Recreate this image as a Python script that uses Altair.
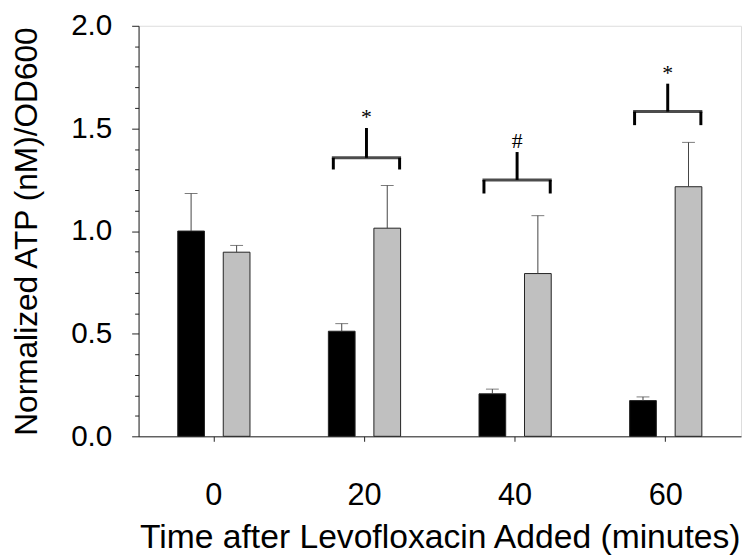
import altair as alt
import pandas as pd

# ---- data ----
times = ["0", "20", "40", "60"]
groups = ["Untreated", "Levofloxacin"]
black_mean = [1.00, 0.512, 0.207, 0.174]
black_sem = [0.183, 0.037, 0.023, 0.018]
gray_mean = [0.897, 1.014, 0.793, 1.216]
gray_sem = [0.033, 0.208, 0.282, 0.216]

bracket_times = ["20", "40", "60"]
bracket_symbols = ["*", "#", "*"]
bracket_level = [1.357, 1.249, 1.582]
bracket_end = [1.300, 1.183, 1.516]
bracket_top = [1.502, 1.385, 1.718]

y_ticks = [0.0, 0.1, 0.2, 0.3, 0.4, 0.5, 0.6, 0.7, 0.8, 0.9, 1.0,
           1.1, 1.2, 1.3, 1.4, 1.5, 1.6, 1.7, 1.8, 1.9, 2.0]

rows = []
for t, m, s in zip(times, black_mean, black_sem):
    rows.append({"time": t, "group": groups[0], "mean": m, "upper": m + s})
for t, m, s in zip(times, gray_mean, gray_sem):
    rows.append({"time": t, "group": groups[1], "mean": m, "upper": m + s})
df = pd.DataFrame(rows)

br = pd.DataFrame({"time": bracket_times, "sym": bracket_symbols,
                   "level": bracket_level, "end": bracket_end, "top": bracket_top})

W, H = 609, 415
FONT = "Liberation Sans"
AX = "#222222"

major = "abs(datum.value*2 - round(datum.value*2)) < 1e-6"

x_axis = alt.Axis(title="Time after Levofloxacin Added (minutes)", labelAngle=0,
                  tickSize=5, labelPadding=40, labelFontSize=31, titleFontSize=34,
                  titleY=112, titleBaseline="alphabetic", titleFontWeight="normal",
                  labelFont=FONT, titleFont=FONT, domainColor=AX, tickColor=AX,
                  labelColor="black", titleColor="black", grid=False)
x_scale = alt.Scale(domain=times, paddingInner=0.5205, paddingOuter=0.26)
X = alt.X("time:N", scale=x_scale, axis=x_axis)

y_axis = alt.Axis(title="Normalized ATP (nM)/OD600", values=y_ticks,
                  labelExpr=f"{major} ? format(datum.value, '.1f') : ''",
                  tickSize={"condition": {"test": major, "value": 7}, "value": 4},
                  labelPadding=20, labelFontSize=30, titleFontSize=32,
                  titleX=-103, titleY=H / 2, titleAngle=270, titleBaseline="alphabetic",
                  titleFontWeight="normal", labelFont=FONT, titleFont=FONT,
                  domainColor=AX, tickColor=AX, labelColor="black", titleColor="black",
                  grid=False)
y_scale = alt.Scale(domain=[0, 2], nice=False, zero=True)


def Y(field):
    return alt.Y(f"{field}:Q", scale=y_scale, axis=y_axis)


XO = alt.XOffset("group:N", sort=groups, scale=alt.Scale(domain=groups, paddingInner=0.413, paddingOuter=0))

base = alt.Chart(df)

bars = base.mark_bar(stroke="#222222", strokeWidth=1).encode(
    x=X, xOffset=XO, y=Y("mean"),
    color=alt.Color("group:N", scale=alt.Scale(domain=groups, range=["#000000", "#c0c0c0"]), legend=None),
)
err = base.mark_rule(color="#444444", strokeWidth=1).encode(
    x=X, xOffset=XO, y=Y("mean"), y2="upper:Q")
cap = base.mark_tick(color="#444444", size=13, thickness=1).encode(
    x=X, xOffset=XO, y=Y("upper"))

bb = alt.Chart(br)
br_h = bb.mark_tick(color="black", size=70, thickness=3, xOffset=2).encode(x=X, y=Y("level"))
br_l = bb.mark_rule(color="black", strokeWidth=3, xOffset=-31.5).encode(x=X, y=Y("level"), y2="end:Q")
br_r = bb.mark_rule(color="black", strokeWidth=3, xOffset=35.5).encode(x=X, y=Y("level"), y2="end:Q")
br_s = bb.mark_rule(color="black", strokeWidth=3, xOffset=2).encode(x=X, y=Y("level"), y2="top:Q")
br_t = bb.mark_text(font="Liberation Serif", fontSize=22, baseline="alphabetic", dy=-4,
                    xOffset=2, color="black").encode(x=X, y=Y("top"), text="sym:N")

chart = alt.layer(bars, err, cap, br_h, br_l, br_r, br_s, br_t).properties(
    width=W, height=H,
    autosize=alt.AutoSizeParams(type="none"),
    padding={"left": 132, "top": 15, "right": 2, "bottom": 119},
).configure_view(stroke=None).configure(font=FONT, background="white")

chart.save("out.html", embed_options={"renderer": "svg", "actions": False})
